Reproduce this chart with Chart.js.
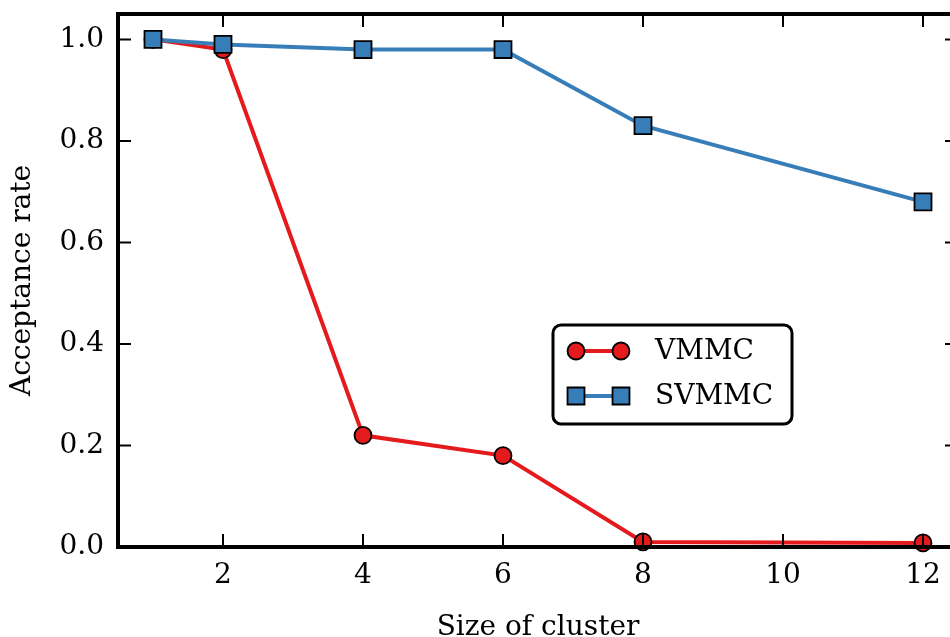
<!DOCTYPE html>
<html>
<head>
<meta charset="utf-8">
<script src="https://cdn.jsdelivr.net/npm/chart.js@4.4.0/dist/chart.umd.min.js"></script>
<style>
  html, body { margin: 0; padding: 0; background: #fff; overflow: hidden; width: 950px; height: 637px; }
  #wrap { width: 960px; height: 637px; }
</style>
</head>
<body>
<div id="wrap"><canvas id="c" width="960" height="637"></canvas></div>
<script>
const clusterSizes = [1, 2, 4, 6, 8, 12];
const vmmcRates = [1.0, 0.98, 0.22, 0.18, 0.01, 0.008];
const svmmcRates = [1.0, 0.99, 0.98, 0.98, 0.83, 0.68];
const xTicks = [2, 4, 6, 8, 10, 12];
const yTicks = [0.0, 0.2, 0.4, 0.6, 0.8, 1.0];
const seriesNames = ['VMMC', 'SVMMC'];

const RED = '#e41a1c';
const BLUE = '#377eb8';
const FONT = 'DejaVu Serif';
const FS = 28;

const frame = {
  id: 'frame',
  afterDraw(chart) {
    const ctx = chart.ctx;
    const a = chart.chartArea;
    const xs = chart.scales.x, ys = chart.scales.y;
    ctx.save();
    ctx.strokeStyle = '#000';
    ctx.lineWidth = 2;
    const tl = 13;
    xTicks.forEach(v => {
      const px = xs.getPixelForValue(v);
      ctx.beginPath();
      ctx.moveTo(px, a.bottom); ctx.lineTo(px, a.bottom - tl);
      ctx.moveTo(px, a.top); ctx.lineTo(px, a.top + tl);
      ctx.stroke();
    });
    yTicks.forEach(v => {
      const py = ys.getPixelForValue(v);
      ctx.beginPath();
      ctx.moveTo(a.left, py); ctx.lineTo(a.left + tl, py);
      ctx.moveTo(a.right, py); ctx.lineTo(a.right - tl, py);
      ctx.stroke();
    });
    ctx.lineWidth = 4;
    ctx.strokeRect(a.left, a.top, a.right - a.left, a.bottom - a.top);

    // legend
    const bx = 553, by = 325, bw = 239, bh = 99, r = 8;
    ctx.lineWidth = 3;
    ctx.fillStyle = '#fff';
    ctx.beginPath();
    ctx.moveTo(bx + r, by);
    ctx.arcTo(bx + bw, by, bx + bw, by + bh, r);
    ctx.arcTo(bx + bw, by + bh, bx, by + bh, r);
    ctx.arcTo(bx, by + bh, bx, by, r);
    ctx.arcTo(bx, by, bx + bw, by, r);
    ctx.closePath();
    ctx.fill();
    ctx.stroke();
    const rows = [351, 396];
    chart.data.datasets.forEach((ds, i) => {
      const y = rows[i];
      ctx.strokeStyle = ds.borderColor;
      ctx.lineWidth = ds.borderWidth;
      ctx.beginPath(); ctx.moveTo(576, y); ctx.lineTo(621, y); ctx.stroke();
      [576, 621].forEach(x => {
        ctx.fillStyle = ds.pointBackgroundColor;
        ctx.strokeStyle = ds.pointBorderColor;
        ctx.lineWidth = ds.pointBorderWidth;
        Chart.helpers.drawPoint(ctx, {
          pointStyle: ds.pointStyle, radius: ds.pointRadius, borderWidth: ds.pointBorderWidth, rotation: 0
        }, x, y);
      });
      ctx.fillStyle = '#000';
      ctx.font = FS + 'px "' + FONT + '"';
      ctx.textAlign = 'left';
      ctx.textBaseline = 'middle';
      ctx.fillText(ds.label, 655, y + 1);
    });
    ctx.restore();
  }
};

function zeroPad(s) { s.paddingTop = 0; s.paddingBottom = 0; s.paddingLeft = 0; s.paddingRight = 0; }

new Chart(document.getElementById('c'), {
  type: 'line',
  data: {
    datasets: [
      {
        label: seriesNames[0],
        data: clusterSizes.map((x, i) => ({ x: x, y: vmmcRates[i] })),
        borderColor: RED,
        backgroundColor: RED,
        borderWidth: 4,
        pointStyle: 'circle',
        pointRadius: 8.5,
        pointBorderWidth: 1.8,
        pointBorderColor: '#000',
        pointBackgroundColor: RED,
        tension: 0,
        clip: false,
        order: 2,
      },
      {
        label: seriesNames[1],
        data: clusterSizes.map((x, i) => ({ x: x, y: svmmcRates[i] })),
        borderColor: BLUE,
        backgroundColor: BLUE,
        borderWidth: 4,
        pointStyle: 'rect',
        pointRadius: 12,
        pointBorderWidth: 1.8,
        pointBorderColor: '#000',
        pointBackgroundColor: BLUE,
        tension: 0,
        clip: false,
        order: 1,
      }
    ]
  },
  options: {
    responsive: false,
    animation: false,
    devicePixelRatio: 1,
    layout: { autoPadding: false, padding: { top: 14, right: 2, left: 0, bottom: 0 } },
    plugins: { legend: { display: false }, tooltip: { enabled: false } },
    scales: {
      x: {
        type: 'linear',
        min: 0.5, max: 12.5,
        afterBuildTicks: s => { s.ticks = xTicks.map(v => ({ value: v })); },
        afterFit: s => { s.height = 90; zeroPad(s); },
        grid: { display: false, drawTicks: false },
        border: { display: false },
        ticks: { color: '#000', font: { family: FONT, size: FS }, padding: 12, maxRotation: 0,
                 callback: v => String(v) },
        title: { display: true, text: 'Size of cluster', color: '#000',
                 font: { family: FONT, size: FS }, padding: { top: 0, bottom: -8 } }
      },
      y: {
        type: 'linear',
        min: 0, max: 1.05,
        afterBuildTicks: s => { s.ticks = yTicks.map(v => ({ value: v })); },
        afterFit: s => { s.width = 118; zeroPad(s); },
        grid: { display: false, drawTicks: false },
        border: { display: false },
        ticks: { color: '#000', font: { family: FONT, size: FS }, padding: 14,
                 callback: v => Number(v).toFixed(1) },
        title: { display: true, text: 'Acceptance rate', color: '#000',
                 font: { family: FONT, size: FS }, padding: { top: 6, bottom: 0 } }
      }
    }
  },
  plugins: [frame]
});
</script>
</body>
</html>
